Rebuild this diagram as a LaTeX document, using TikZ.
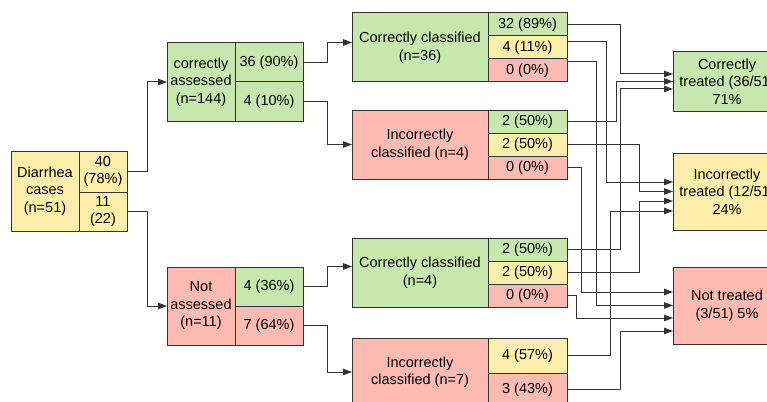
\documentclass[tikz,border=0pt]{standalone}
\usepackage{fontspec}
\setmainfont{Liberation Sans}
\usetikzlibrary{arrows.meta}
\definecolor{gfill}{HTML}{C7E8AC}
\definecolor{yfill}{HTML}{FFEDAA}
\definecolor{rfill}{HTML}{FFBBB1}
\definecolor{edge}{HTML}{333333}

\begin{document}
\begin{tikzpicture}[x=1pt,y=-1pt,
    box/.style={draw=edge,line width=1pt,anchor=north west,inner sep=0pt,outer sep=0pt,
        align=center,font=\fontsize{14.5}{17.5}\selectfont},
    wire/.style={draw=edge,line width=1pt},
    arr/.style={wire,-{Triangle[length=9pt,width=6.5pt]}}]
    \clip (0,0) rectangle (767,401);
    %Diarrhea cases
    \node (dia) [box,fill=yfill,minimum width=68pt,minimum height=80pt] at (11,151) {Diarrhea\\cases\\(n=51)};
    \node (dia40) [box,fill=yfill,minimum width=48pt,minimum height=41pt] at (79,151) {40\\(78\%)};
    \node (dia11) [box,fill=yfill,minimum width=48pt,minimum height=39pt] at (79,192) {11\\(22)};
    %Assessed
    \node (ca) [box,fill=gfill,minimum width=68pt,minimum height=78pt] at (167,43) {correctly\\assessed\\(n=144)};
    \node (ca36) [box,fill=gfill,minimum width=68pt,minimum height=39pt] at (235,43) {36 (90\%)};
    \node (ca4) [box,fill=gfill,minimum width=68pt,minimum height=39pt] at (235,82) {4 (10\%)};
    \node (na) [box,fill=rfill,minimum width=68pt,minimum height=78pt] at (167,267) {Not\\assessed\\(n=11)};
    \node (na4) [box,fill=gfill,minimum width=68pt,minimum height=39pt] at (235,267) {4 (36\%)};
    \node (na7) [box,fill=rfill,minimum width=68pt,minimum height=39pt] at (235,306) {7 (64\%)};
    %Classified
    \node (cc36) [box,fill=gfill,minimum width=136pt,minimum height=69pt] at (352,13) {Correctly classified\\(n=36)};
    \node (cc36a) [box,fill=gfill,minimum width=79pt,minimum height=23pt] at (488,13) {32 (89\%)};
    \node (cc36b) [box,fill=yfill,minimum width=79pt,minimum height=23pt] at (488,36) {4 (11\%)};
    \node (cc36c) [box,fill=rfill,minimum width=79pt,minimum height=23pt] at (488,59) {0 (0\%)};
    \node (ic4) [box,fill=rfill,minimum width=136pt,minimum height=69pt] at (352,110) {Incorrectly\\classified (n=4)};
    \node (ic4a) [box,fill=gfill,minimum width=79pt,minimum height=23pt] at (488,110) {2 (50\%)};
    \node (ic4b) [box,fill=yfill,minimum width=79pt,minimum height=23pt] at (488,133) {2 (50\%)};
    \node (ic4c) [box,fill=rfill,minimum width=79pt,minimum height=23pt] at (488,156) {0 (0\%)};
    \node (cc4) [box,fill=gfill,minimum width=136pt,minimum height=69pt] at (352,238) {Correctly classified\\(n=4)};
    \node (cc4a) [box,fill=gfill,minimum width=79pt,minimum height=23pt] at (488,238) {2 (50\%)};
    \node (cc4b) [box,fill=yfill,minimum width=79pt,minimum height=23pt] at (488,261) {2 (50\%)};
    \node (cc4c) [box,fill=rfill,minimum width=79pt,minimum height=23pt] at (488,284) {0 (0\%)};
    \node (ic7) [box,fill=rfill,minimum width=136pt,minimum height=68pt] at (352,338) {Incorrectly\\classified (n=7)};
    \node (ic7a) [box,fill=yfill,minimum width=79pt,minimum height=35pt] at (488,338) {4 (57\%)};
    \node (ic7b) [box,fill=rfill,minimum width=79pt,minimum height=33pt] at (488,373) {3 (43\%)};
    %Treatment
    \node (ct) [box,fill=gfill,minimum width=108pt,minimum height=59pt] at (673,52) {Correctly\\treated (36/51)\\71\%};
    \node (it) [box,fill=yfill,minimum width=108pt,minimum height=77pt] at (673,153) {Incorrectly\\treated (12/51)\\24\%};
    \node (nt) [box,fill=rfill,minimum width=108pt,minimum height=77pt] at (673,267) {Not treated\\(3/51) 5\%};
    %Arrows
    \draw[arr] (dia40.east) -- ++(20,0) |- (ca.west);
    \draw[arr] (dia11.east) -- ++(20,0) |- (na.west);
    \draw[arr] (ca36.east) -- ++(24,0) |- ([yshift=5pt]cc36.west);
    \draw[arr] (ca4.east) -- ++(24,0) |- (ic4.west);
    \draw[arr] (na4.east) -- ++(24,0) |- ([yshift=6pt]cc4.west);
    \draw[arr] (na7.east) -- ++(24,0) |- (ic7.west);
    % to correctly treated
    \draw[arr] (cc36a.east) -- ++(53,0) |- ([yshift=7.5pt]ct.west);
    \draw[arr] (ic4a.east) -- ++(49,0) |- (ct.west);
    \draw[arr] (cc4a.east) -- ++(53,0) |- ([yshift=-7.5pt]ct.west);
    % to incorrectly treated
    \draw[arr] ([yshift=5.5pt]cc36b.east) -- ++(39,0) |- ([yshift=9.5pt]it.west);
    \draw[arr] (ic4b.east) -- ++(72,0) |- (it.west);
    \draw[arr] (cc4b.east) -- ++(72,0) |- ([yshift=-9.5pt]it.west);
    \draw[arr] (ic7a.east) -- ++(43,0) |- ([yshift=-19.5pt]it.west);
    % to not treated
    \draw[arr] (ic4c.east) -- ++(14,0) |- ([yshift=13.5pt]nt.west);
    \draw[arr] ([yshift=8.5pt]cc36c.east) -- ++(29,0) |- (nt.west);
    \draw[arr] (cc4c.east) -- ++(9,0) |- ([yshift=-12.5pt]nt.west);
    \draw[arr] (ic7b.east) -- ++(53,0) |- ([yshift=-25.5pt]nt.west);
\end{tikzpicture}
\end{document}
